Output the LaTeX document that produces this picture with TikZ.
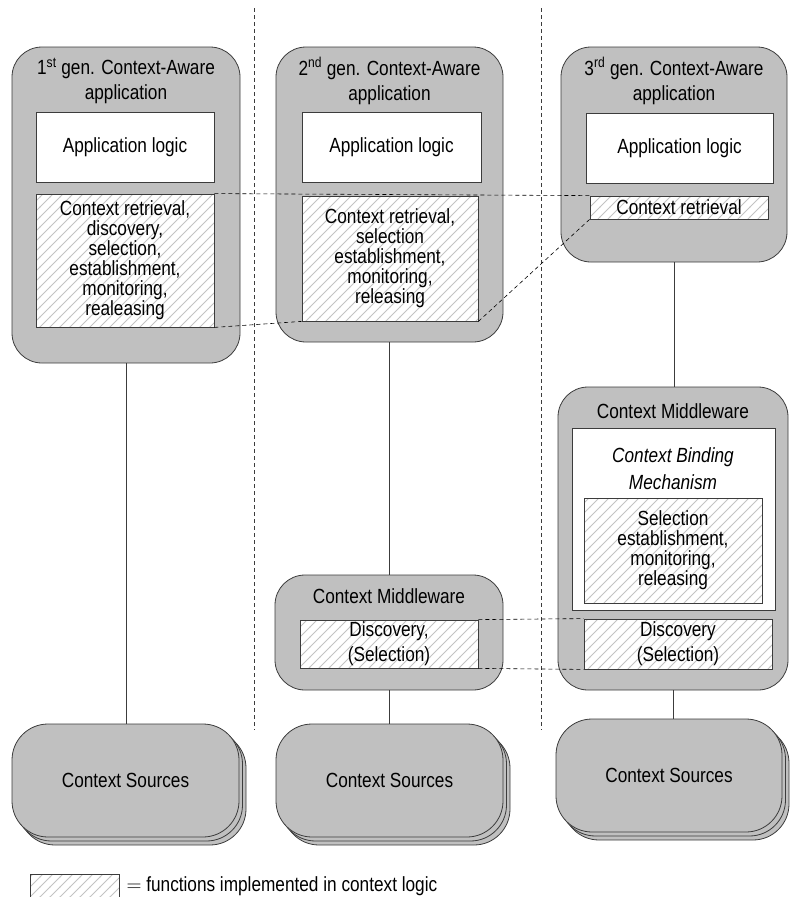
\documentclass[tikz,border=0pt]{standalone}
\usepackage{fontspec}
\setmainfont{Liberation Sans}[FakeStretch=0.84]
\usetikzlibrary{patterns.meta,shadows,positioning}
\definecolor{BoxGray}{RGB}{192,192,192}
\definecolor{EdgeGray}{RGB}{60,60,60}
\definecolor{HatchGray}{RGB}{195,195,195}

% diagonal hatch for functions in context logic
\tikzdeclarepattern{
  name=hatch,
  type=uncolored,
  bottom left={(-.5pt,-.5pt)},
  top right={(10.5pt,10.5pt)},
  tile size={(10pt,10pt)},
  code={\draw[line width=0.9pt] (-.5pt,-.5pt) -- (10.5pt,10.5pt);}
}

\begin{document}
\begin{tikzpicture}[x=1pt, y=-1pt, font=\fontsize{20.5}{25}\selectfont,
  appbox/.style={draw=EdgeGray, fill=BoxGray, line width=0.8pt, rounded corners=30pt, inner sep=0pt},
  logicbox/.style={draw=EdgeGray, fill=white, line width=0.8pt, inner sep=0pt, align=center},
  hatchbox/.style={draw=EdgeGray, line width=0.8pt, inner sep=0pt, align=center,
    preaction={fill=white}, pattern=hatch, pattern color=HatchGray},
  tight/.style={font=\fontsize{20.5}{20}\selectfont},
  srcbox/.style={appbox, rounded corners=36pt,
    double copy shadow={shadow xshift=3.5pt, shadow yshift=-4pt}},
  title/.style={align=center, inner sep=0pt},
  link/.style={draw=EdgeGray, line width=0.6pt},
  fnlink/.style={draw=black, line width=0.6pt, dash pattern=on 4pt off 3pt},
  divider/.style={draw=EdgeGray, line width=0.6pt, dash pattern=on 4pt off 3pt}]
  \useasboundingbox (0,0) rectangle (790,897);

  % Generation dividers
  \coordinate (d1top) at (254,8);
  \coordinate (d1bot) at (254,730);
  \coordinate (d2top) at (541,8);
  \coordinate (d2bot) at (541,730);
  \draw[divider] (d1top) -- (d1bot);
  \draw[divider] (d2top) -- (d2bot);

  % Context-aware applications
  \node[appbox, minimum width=228pt, minimum height=316pt] (app1) at (126,205) {};
  \node[appbox, minimum width=227pt, minimum height=295pt] (app2) at (389.5,194.5) {};
  \node[appbox, minimum width=226pt, minimum height=215pt] (app3) at (674,154.5) {};
  \node[title] (t1) at (126,81) {1\textsuperscript{st} gen. Context-Aware\\application};
  \node[title] (t2) at (389.5,81) {2\textsuperscript{nd} gen. Context-Aware\\application};
  \node[title] (t3) at (674,81) {3\textsuperscript{rd} gen. Context-Aware\\application};

  \node[logicbox, minimum width=178pt, minimum height=70pt] (logic1) at (125,147) {Application logic};
  \node[logicbox, minimum width=179pt, minimum height=70pt] (logic2) at (391.5,147) {Application logic};
  \node[logicbox, minimum width=187pt, minimum height=70pt] (logic3) at (679.5,148) {Application logic};

  \node[hatchbox, tight, minimum width=178pt, minimum height=133pt] (ret1) at (125,260.5)
    {Context retrieval,\\discovery,\\selection,\\establishment,\\monitoring,\\realeasing};
  \node[hatchbox, tight, minimum width=176pt, minimum height=125pt] (ret2) at (390,258.5)
    {Context retrieval,\\selection\\establishment,\\monitoring,\\releasing};
  \node[hatchbox, minimum width=178pt, minimum height=23pt] (ret3) at (679,207.5) {Context retrieval};

  % Context middleware
  \node[appbox, minimum width=228pt, minimum height=115pt] (mw2) at (389,632.5) {};
  \node[title] (mt2) at (389,596) {Context Middleware};
  \node[hatchbox, minimum width=178pt, minimum height=48pt] (disc2) at (389,644) {Discovery,\\(Selection)};

  \node[appbox, minimum width=230pt, minimum height=303pt] (mw3) at (673,538.5) {};
  \node[title] (mt3) at (673,411) {Context Middleware};
  \node[logicbox, minimum width=203pt, minimum height=182pt] (bind3) at (673.5,519) {};
  \node[title, font=\fontsize{20.5}{27}\selectfont\itshape] (bt3) at (673,469) {Context Binding\\Mechanism};
  \node[hatchbox, tight, minimum width=178pt, minimum height=105pt] (sel3) at (673,550.5)
    {Selection\\establishment,\\monitoring,\\releasing};
  \node[hatchbox, minimum width=188pt, minimum height=50pt] (disc3) at (678,644) {Discovery\\(Selection)};

  % Context sources
  \node[srcbox, minimum width=227pt, minimum height=113pt] (src1) at (125.5,780.5) {Context Sources};
  \node[srcbox, minimum width=227pt, minimum height=113pt] (src2) at (389.5,780.5) {Context Sources};
  \node[srcbox, minimum width=226pt, minimum height=113pt] (src3) at (669,775.5) {Context Sources};

  % Connections between layers
  \draw[link] (app1.south) -- (app1.south |- src1.north);
  \draw[link] (app2.south) -- (app2.south |- mw2.north);
  \draw[link] (mw2.south) -- (mw2.south |- src2.north);
  \draw[link] (app3.south) -- (app3.south |- mw3.north);
  \draw[link] (mw3.south) -- (mw3.south |- src3.north);

  % Where the context functions moved to
  \draw[fnlink] (ret1.north east) -- (ret3.north west);
  \draw[fnlink] (ret1.south east) -- (ret2.south west);
  \draw[fnlink] (ret2.south east) -- (ret3.south west);
  \draw[fnlink] (disc2.north east) -- (disc3.north west);
  \draw[fnlink] (disc2.south east) -- (disc3.south west);

  % Legend
  \node[hatchbox, minimum width=89pt, minimum height=24pt] (key) at (74.5,886) {};
  \node[right=7pt of key, inner sep=0pt] (keytext)
    {$=$ functions implemented in context logic};
\end{tikzpicture}
\end{document}
